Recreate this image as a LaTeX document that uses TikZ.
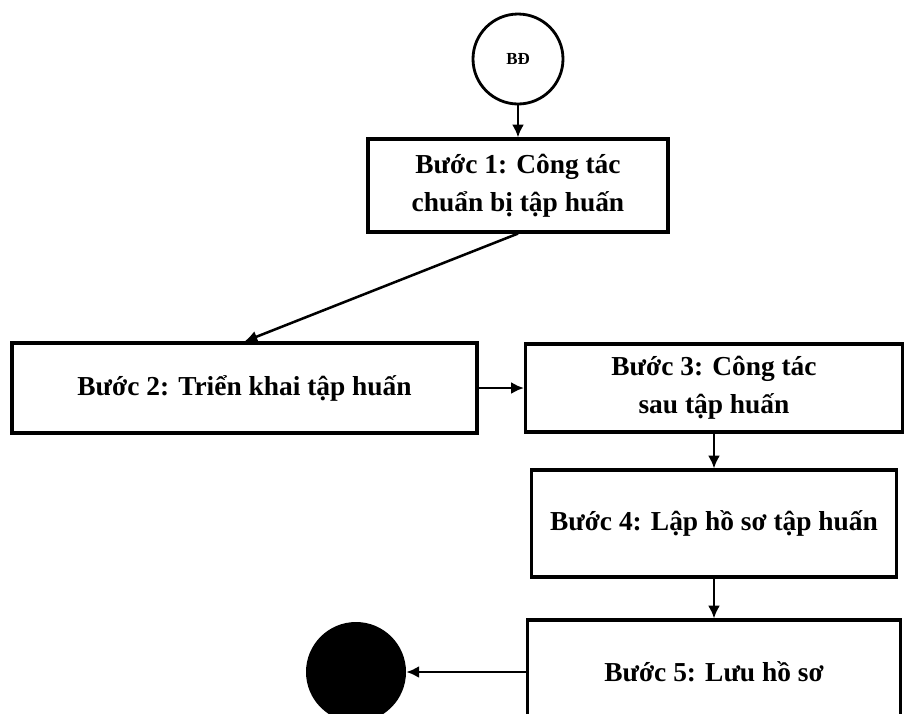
\documentclass[tikz,border=0pt]{standalone}
\usepackage{fontspec}
\setmainfont{Liberation Serif}
\usepackage{tikz}
\usetikzlibrary{arrows.meta}

\begin{document}
\begin{tikzpicture}
		[every node/.style={font=\bfseries\fontsize{19.5}{27}\selectfont},
		buoc/.style={draw,line width=2.2pt,align=center,inner sep=0pt},
		edge/.style={-{Latex[length=3.2mm,width=3mm]},line width=1.8pt}]
		\useasboundingbox (0,0) rectangle (22.625,-17.825);
		\node[circle,draw,line width=2pt,minimum size=2.25cm,font=\bfseries\fontsize{12}{14}\selectfont] (bd) at (12.95,-1.475) {BĐ};
		\node[buoc,minimum width=7.5cm,minimum height=2.325cm] (b1) at (12.95,-4.6375) {Bước 1: Công tác\\chuẩn bị tập huấn};
		\node[buoc,minimum width=11.625cm,minimum height=2.25cm] (b2) at (6.1125,-9.7) {Bước 2: Triển khai tập huấn};
		\node[buoc,minimum width=9.425cm,minimum height=2.2cm] (b3) at (17.85,-9.7) {Bước 3: Công tác\\sau tập huấn};
		\node[buoc,minimum width=9.125cm,minimum height=2.675cm] (b4) at (17.85,-13.0875) {Bước 4: Lập hồ sơ tập huấn};
		\node[buoc,minimum width=9.325cm,minimum height=2.6cm] (b5) at (17.85,-16.8) {Bước 5: Lưu hồ sơ};
		\node[circle,fill=black,minimum size=2.5cm] (kt) at (8.9,-16.8) {};
		
		\foreach \from/\to in {bd.south/b1.north,b1.south/b2.north,b2.east/b3.west,b3.south/b4.north,b4.south/b5.north,b5.west/kt.east}
		\draw[edge] (\from) -- (\to);
		\end{tikzpicture}
\end{document}
